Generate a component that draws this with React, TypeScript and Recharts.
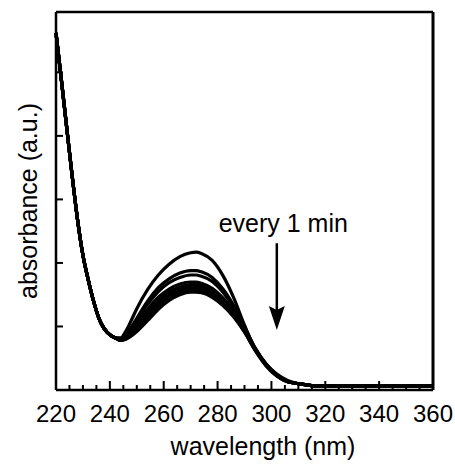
import React from "react";
import {
  LineChart,
  Line,
  XAxis,
  YAxis,
  Label,
  ReferenceLine,
  ReferenceDot,
} from "recharts";

// ─── Data ────────────────────────────────────────────────────────────────────

// steep short-wavelength edge, identical for every scan
const riseWavelengths = [220, 222, 224, 226, 228, 230, 232, 234, 236, 238, 240, 242];
const riseShared = [5.62, 4.88, 4.12, 3.37, 2.68, 2.12, 1.73, 1.39, 1.12, 0.96, 0.87, 0.82];

// band around 270 nm, one array per scan (1 min apart)
const peakWavelengths = [
  244, 246, 248, 250, 254, 258, 262, 266, 270, 272, 274, 278, 282, 286, 290, 294, 298, 302, 306,
];
const scan1 = [0.82, 0.93, 1.1, 1.28, 1.58, 1.81, 1.98, 2.1, 2.16, 2.17, 2.15, 2.04, 1.8, 1.45, 1.02, 0.64, 0.4, 0.24, 0.14];
const scan2 = [0.81, 0.87, 0.99, 1.13, 1.4, 1.61, 1.75, 1.84, 1.88, 1.88, 1.86, 1.77, 1.59, 1.33, 1.0, 0.66, 0.41, 0.25, 0.15];
const scan3 = [0.8, 0.86, 0.97, 1.1, 1.35, 1.55, 1.69, 1.77, 1.81, 1.81, 1.79, 1.71, 1.54, 1.3, 0.98, 0.65, 0.41, 0.24, 0.14];
const scan4 = [0.8, 0.84, 0.93, 1.04, 1.27, 1.46, 1.59, 1.67, 1.7, 1.7, 1.68, 1.6, 1.45, 1.24, 0.96, 0.65, 0.41, 0.24, 0.14];
const scan5 = [0.79, 0.83, 0.91, 1.01, 1.22, 1.41, 1.54, 1.62, 1.66, 1.66, 1.64, 1.56, 1.42, 1.21, 0.94, 0.64, 0.4, 0.23, 0.13];
const scan6 = [0.79, 0.82, 0.89, 0.98, 1.18, 1.37, 1.5, 1.58, 1.62, 1.62, 1.6, 1.52, 1.39, 1.19, 0.93, 0.63, 0.39, 0.23, 0.13];
const scan7 = [0.78, 0.81, 0.87, 0.95, 1.14, 1.32, 1.46, 1.54, 1.58, 1.58, 1.56, 1.49, 1.36, 1.17, 0.92, 0.63, 0.39, 0.22, 0.13];
const scan8 = [0.78, 0.8, 0.85, 0.92, 1.09, 1.27, 1.41, 1.5, 1.54, 1.54, 1.53, 1.46, 1.33, 1.15, 0.91, 0.62, 0.38, 0.22, 0.13];

// flat long-wavelength tail
const tailWavelengths = [310, 315, 320, 330, 340, 350, 360];
const tailShared = [0.1, 0.07, 0.06, 0.06, 0.06, 0.06, 0.06];

const xTicks = [
  220, 225, 230, 235, 240, 245, 250, 255, 260, 265, 270, 275, 280, 285, 290,
  295, 300, 305, 310, 315, 320, 325, 330, 335, 340, 345, 350, 355, 360,
];
const yTicks = [1, 2, 3, 4, 5];

const scans = [scan1, scan2, scan3, scan4, scan5, scan6, scan7, scan8];
const wavelengths = [...riseWavelengths, ...peakWavelengths, ...tailWavelengths];
const chartData = wavelengths.map((w, i) => {
  const row: Record<string, number> = { w };
  scans.forEach((s, k) => {
    row[`s${k}`] = [...riseShared, ...s, ...tailShared][i];
  });
  return row;
});

// ─── Styling ─────────────────────────────────────────────────────────────────

const FONT = '"Liberation Sans", Arial, Helvetica, sans-serif';
const INK = "#000";
const Y_MAX = 5.95;

function XTick(props: any) {
  const { x, y, payload } = props;
  const major = payload.value % 20 === 0;
  return (
    <g>
      <line x1={x} x2={x} y1={y} y2={y - (major ? 9 : 5)} stroke={INK} strokeWidth={2} />
      {major && (
        <text x={x} y={y + 32} textAnchor="middle" fontSize={24} fontFamily={FONT} fill={INK}>
          {payload.value}
        </text>
      )}
    </g>
  );
}

function YTick(props: any) {
  const { x, y } = props;
  return <line x1={x} x2={x + 7} y1={y} y2={y} stroke={INK} strokeWidth={2} />;
}

function ArrowHead(props: any) {
  const { cx, cy } = props;
  return (
    <path
      d={`M ${cx} ${cy} L ${cx - 8} ${cy - 24} L ${cx} ${cy - 20} L ${cx + 8} ${cy - 24} Z`}
      fill={INK}
    />
  );
}

function Caption(props: any) {
  const { cx, cy } = props;
  return (
    <text x={cx} y={cy} textAnchor="middle" fontSize={25} fontFamily={FONT} fill={INK}>
      every 1 min
    </text>
  );
}

export default function App() {
  return (
    <div style={{ position: "absolute", left: 0, top: 0, background: "#fff" }}>
      <LineChart
        width={455}
        height={465}
        data={chartData}
        margin={{ top: 12, right: 22, left: 0, bottom: 0 }}
      >
        <XAxis
          dataKey="w"
          type="number"
          domain={[220, 360]}
          ticks={xTicks}
          interval={0}
          tickSize={0}
          tickMargin={0}
          height={75}
          tick={<XTick />}
          tickLine={false}
          axisLine={{ stroke: INK, strokeWidth: 2.5 }}
        >
          <Label
            content={() => (
              <text x={263} y={455} textAnchor="middle" fontSize={25} fontFamily={FONT} fill={INK}>
                wavelength (nm)
              </text>
            )}
          />
        </XAxis>
        <YAxis
          type="number"
          domain={[0, Y_MAX]}
          ticks={yTicks}
          width={56}
          tickSize={0}
          tickMargin={0}
          tick={<YTick />}
          tickLine={false}
          axisLine={{ stroke: INK, strokeWidth: 2.5 }}
        >
          <Label
            content={(p: any) => {
              const vb = p.viewBox || { x: 0, y: 12, height: 378 };
              const cx = vb.x + 37;
              const cy = vb.y + vb.height / 2;
              return (
                <text
                  x={cx}
                  y={cy}
                  transform={`rotate(-90 ${cx} ${cy})`}
                  textAnchor="middle"
                  fontSize={25}
                  fontFamily={FONT}
                  fill={INK}
                >
                  absorbance (a.u.)
                </text>
              );
            }}
          />
        </YAxis>

        {/* frame: top and right edges */}
        <ReferenceLine y={Y_MAX} stroke={INK} strokeWidth={2.5} />
        <ReferenceLine x={360} stroke={INK} strokeWidth={3} />

        {scans.map((_, k) => (
          <Line
            key={k}
            type="monotone"
            dataKey={`s${k}`}
            stroke={INK}
            strokeWidth={3.2}
            dot={false}
            isAnimationActive={false}
          />
        ))}

        {/* "every 1 min" arrow */}
        <ReferenceLine
          segment={[
            { x: 302, y: 2.31 },
            { x: 302, y: 1.25 },
          ]}
          stroke={INK}
          strokeWidth={2.5}
        />
        <ReferenceDot x={302} y={0.945} r={0} shape={<ArrowHead />} />
        <ReferenceDot x={304.4} y={2.49} r={0} shape={<Caption />} />
      </LineChart>
    </div>
  );
}
